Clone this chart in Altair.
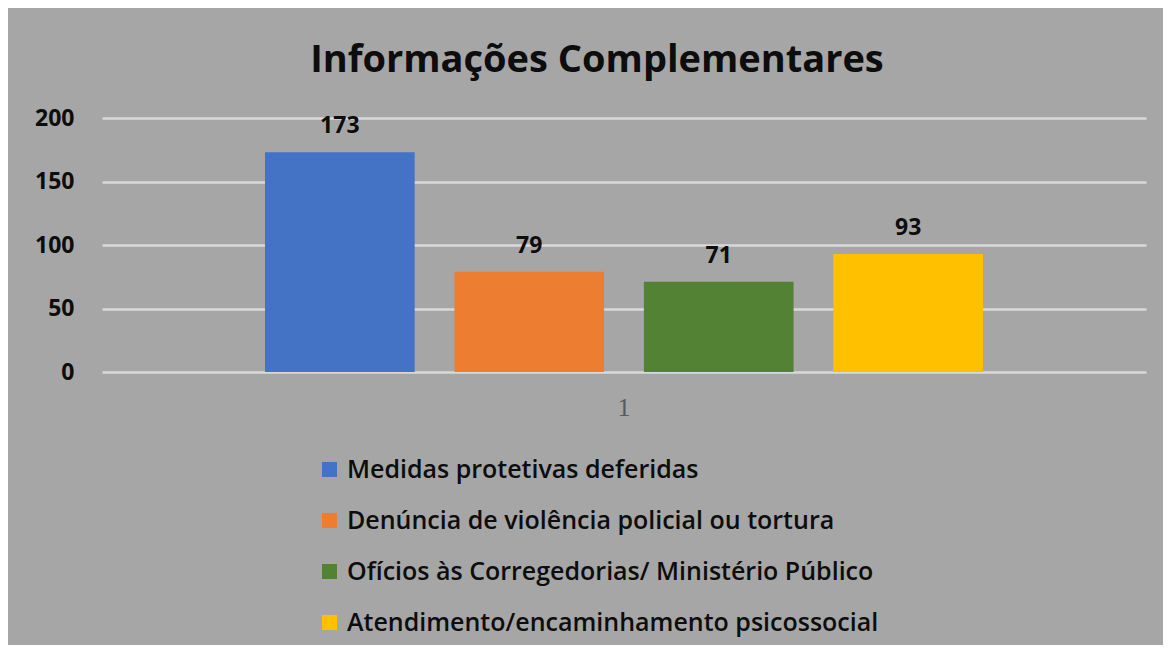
import altair as alt
import pandas as pd

categories = [
    "Medidas protetivas deferidas",
    "Denúncia de violência policial ou tortura",
    "Ofícios às Corregedorias/ Ministério Público",
    "Atendimento/encaminhamento psicossocial",
]
values = [173, 79, 71, 93]
group = ["1", "1", "1", "1"]
colors = ["#4472c4", "#ed7d31", "#548235", "#ffc000"]

df = pd.DataFrame({"serie": categories, "valor": values, "grupo": group})

FONT = "Open Sans"

base = alt.Chart(df).encode(
    x=alt.X(
        "grupo:N",
        title=None,
        scale=alt.Scale(paddingInner=0, paddingOuter=0.227),
        axis=alt.Axis(
            labelAngle=0,
            labelFont="Liberation Serif",
            labelFontSize=26,
            labelColor="#595959",
            labelPadding=22,
            domain=False,
            ticks=False,
            grid=False,
        ),
    ),
    xOffset=alt.XOffset(
        "serie:N", sort=categories, scale=alt.Scale(paddingInner=0.21, paddingOuter=0)
    ),
)

bars = base.mark_bar().encode(
    y=alt.Y(
        "valor:Q",
        title=None,
        scale=alt.Scale(domain=[0, 200]),
        axis=alt.Axis(
            values=[0, 50, 100, 150, 200],
            labelFont=FONT,
            labelFontSize=23,
            labelFontWeight="bold",
            labelColor="#0d0d0d",
            labelPadding=28,
            domain=False,
            ticks=False,
            gridColor="#d9d9d9",
            gridWidth=2.5,
            gridOpacity=1,
        ),
    ),
    color=alt.Color(
        "serie:N",
        sort=categories,
        scale=alt.Scale(domain=categories, range=colors),
        legend=alt.Legend(
            title=None,
            orient="none",
            legendX=215,
            legendY=339,
            direction="vertical",
            symbolType="square",
            symbolSize=225,
            symbolStrokeWidth=0,
            symbolOpacity=1,
            labelFont=FONT,
            labelFontSize=25,
            labelFontWeight=600,
            labelColor="#0d0d0d",
            labelOffset=5,
            rowPadding=25,
            labelLimit=800,
        ),
    ),
)

labels = base.mark_text(
    baseline="alphabetic",
    dy=-19,
    font=FONT,
    fontSize=23,
    fontWeight="bold",
    color="#0d0d0d",
).encode(y="valor:Q", text="valor:Q")

chart = (
    alt.layer(bars, labels)
    .properties(
        width=1044,
        height=254,
        padding={"left": 94, "top": 110, "right": 17, "bottom": 273},
        autosize=alt.AutoSizeParams(type="none"),
        background="#a6a6a6",
        title=alt.TitleParams(
            "Informações Complementares",
            font=FONT,
            fontSize=38,
            fontWeight="bold",
            color="#0d0d0d",
            anchor="middle",
            dx=-27,
            offset=27,
        ),
    )
    .configure_view(stroke=None)
)

chart.save("out.html", embed_options={"renderer": "svg", "actions": False})
